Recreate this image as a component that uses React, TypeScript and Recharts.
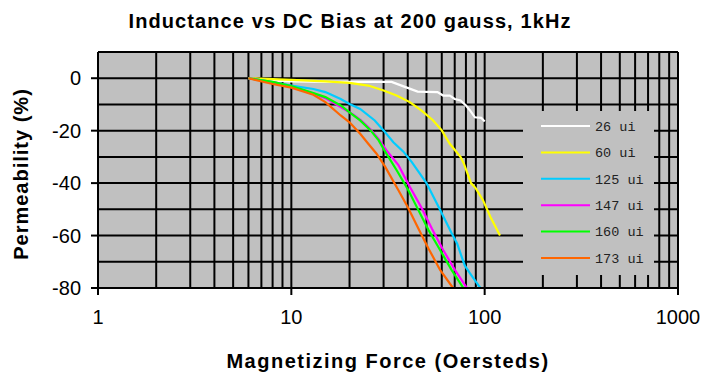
import React from 'react';
import { LineChart, Line, XAxis, YAxis, CartesianGrid, Legend } from 'recharts';

const seriesNames = ['26 ui', '60 ui', '125 ui', '147 ui', '160 ui', '173 ui'];
const seriesColors = ['#ffffff', '#ffff00', '#00ccff', '#ff00ff', '#00ff00', '#ff6600'];

// [magnetizing force (Oe), permeability change (%)]
const ui26: [number, number][] = [
  [6, 0], [8, -0.8], [10, -1.2], [15, -1.4], [20, -1.4], [33, -1.4], [39, -3.4], [45, -5.1],
  [57, -5.3], [61, -6.6], [66, -6.6], [70, -7.9], [75, -8.5], [80, -10.4], [84, -12.3],
  [89, -14.9], [96, -15.1], [100, -16.5],
];
const ui60: [number, number][] = [
  [6, 0], [10, -0.6], [15, -1.2], [20, -1.8], [25, -2.8], [30, -4.7], [35, -6.6], [41, -9.1],
  [47, -12.3], [54, -16], [60, -19.9], [66, -25], [75, -30], [78, -32.5], [85, -40], [90, -42],
  [98, -46.5], [107, -52.8], [120, -60],
];
const ui125: [number, number][] = [
  [6, 0], [8, -1.5], [10, -2.8], [13, -4.1], [15, -5.3], [18, -7.9], [20, -9.8], [22.7, -11.7],
  [27, -16.1], [30, -19.9], [33.7, -24.4], [38, -28], [42, -32], [50, -40], [58.6, -50],
  [67.4, -59], [72, -63], [76, -68], [79, -71.5], [84, -74.4], [90, -77.6], [95, -80],
];
const ui147: [number, number][] = [
  [6, 0], [8, -1.5], [10, -3.1], [13, -5.8], [15, -7.6], [18, -11], [21, -14], [23, -16.2],
  [25.7, -19.6], [28.5, -23.5], [31, -27.4], [35.8, -33.1], [41, -41.4], [47.3, -49.6],
  [53.3, -57.3], [61, -65.5], [70, -73], [81, -80],
];
const ui160: [number, number][] = [
  [6, 0], [8, -1.4], [10, -3], [13, -5.7], [15, -7.2], [18, -10.4], [20, -13], [22.7, -16.1],
  [25.7, -19.9], [28.3, -23.7], [30.3, -27.5], [35, -35], [40.3, -42.7], [45.4, -50.3],
  [51.2, -57.9], [58.8, -65.5], [67.4, -73.1], [77.6, -80],
];
const ui173: [number, number][] = [
  [6, 0], [8, -2.2], [10, -3.6], [13, -6.3], [15, -9.1], [18, -14.2], [20, -16.8], [22.7, -21.2],
  [25, -25], [27.6, -28.8], [30.6, -33.8], [35.8, -42.7], [40.3, -49.6], [45.4, -57.3],
  [51.2, -64.9], [58.8, -73.1], [68.6, -80],
];
const seriesPoints = [ui26, ui60, ui125, ui147, ui160, ui173];

const xTicks = [1, 10, 100, 1000];
const xGrid = [1, 2, 3, 4, 5, 6, 7, 8, 9, 10, 20, 30, 40, 50, 60, 70, 80, 90, 100, 200, 300, 400, 500, 600, 700, 800, 900, 1000];
const yTicks = [-80, -60, -40, -20, 0];
const yGrid = [-80, -70, -60, -50, -40, -30, -20, -10, 0, 10];

const titleText = 'Inductance vs DC Bias at 200 gauss, 1kHz';
const xTitle = 'Magnetizing Force (Oersteds)';
const yTitle = 'Permeability (%)';

const series = seriesNames.map((name, i) => ({
  name,
  color: seriesColors[i],
  data: seriesPoints[i].map(([h, p]) => ({ h, p })),
}));

const SANS = '"Liberation Sans", Arial, sans-serif';

const LegendBox = () => (
  <div style={{ width: 131, height: 164, background: '#c0c0c0' }}>
    <svg width={131} height={164}>
      {series.map((s, i) => (
        <g key={s.name}>
          <line x1={18} x2={67} y1={15 + i * 26.4} y2={15 + i * 26.4} stroke={s.color} strokeWidth={2} />
          <text x={72} y={15 + i * 26.4} dy="0.35em" fontFamily='"Liberation Mono", monospace' fontSize={13.5} fill="#222">
            {s.name}
          </text>
        </g>
      ))}
    </svg>
  </div>
);

export default function App() {
  return (
    <div style={{ position: 'absolute', left: 0, top: 0, width: 720, height: 376, background: '#fff' }}>
      <LineChart width={720} height={376} margin={{ top: 52, right: 42, bottom: 58, left: 0 }}>
        <CartesianGrid
          stroke="#000"
          strokeWidth={2}
          fill="#c0c0c0"
          fillOpacity={1}
          horizontalValues={yGrid}
          verticalValues={xGrid}
        />
        <XAxis
          dataKey="h"
          type="number"
          scale="log"
          domain={[1, 1000]}
          ticks={xTicks}
          allowDataOverflow
          height={30}
          tickSize={7}
          tickMargin={15}
          axisLine={{ stroke: '#000', strokeWidth: 2 }}
          tickLine={{ stroke: '#000', strokeWidth: 2 }}
          tick={{ fill: '#000', fontSize: 20, fontFamily: SANS }}
          interval={0}
        />
        <YAxis
          type="number"
          domain={[-80, 10]}
          ticks={yTicks}
          allowDataOverflow
          width={98}
          tickSize={7}
          tickMargin={10}
          axisLine={{ stroke: '#000', strokeWidth: 2 }}
          tickLine={{ stroke: '#000', strokeWidth: 2 }}
          tick={{ fill: '#000', fontSize: 20, fontFamily: SANS }}
          interval={0}
        />
        <Legend
          layout="horizontal"
          verticalAlign="middle"
          align="center"
          content={() => <LegendBox />}
          wrapperStyle={{ left: 523, top: 111, width: 131, height: 164 }}
        />
        {series.map((s) => (
          <Line
            key={s.name}
            data={s.data}
            dataKey="p"
            name={s.name}
            stroke={s.color}
            strokeWidth={2.2}
            dot={false}
            type="linear"
            isAnimationActive={false}
          />
        ))}
      </LineChart>
      <svg width={720} height={376} style={{ position: 'absolute', left: 0, top: 0, pointerEvents: 'none' }}>
        <text x={350} y={28} textAnchor="middle" fontFamily={SANS} fontWeight="bold" fontSize={20} letterSpacing={1.1} fill="#000">
          {titleText}
        </text>
        <text x={388} y={368} textAnchor="middle" fontFamily={SANS} fontWeight="bold" fontSize={20} letterSpacing={1.5} fill="#000">
          {xTitle}
        </text>
        <text
          x={0}
          y={0}
          transform="translate(28,174) rotate(-90)"
          textAnchor="middle"
          fontFamily={SANS}
          fontWeight="bold"
          fontSize={20}
          letterSpacing={1}
          fill="#000"
        >
          {yTitle}
        </text>
      </svg>
    </div>
  );
}
